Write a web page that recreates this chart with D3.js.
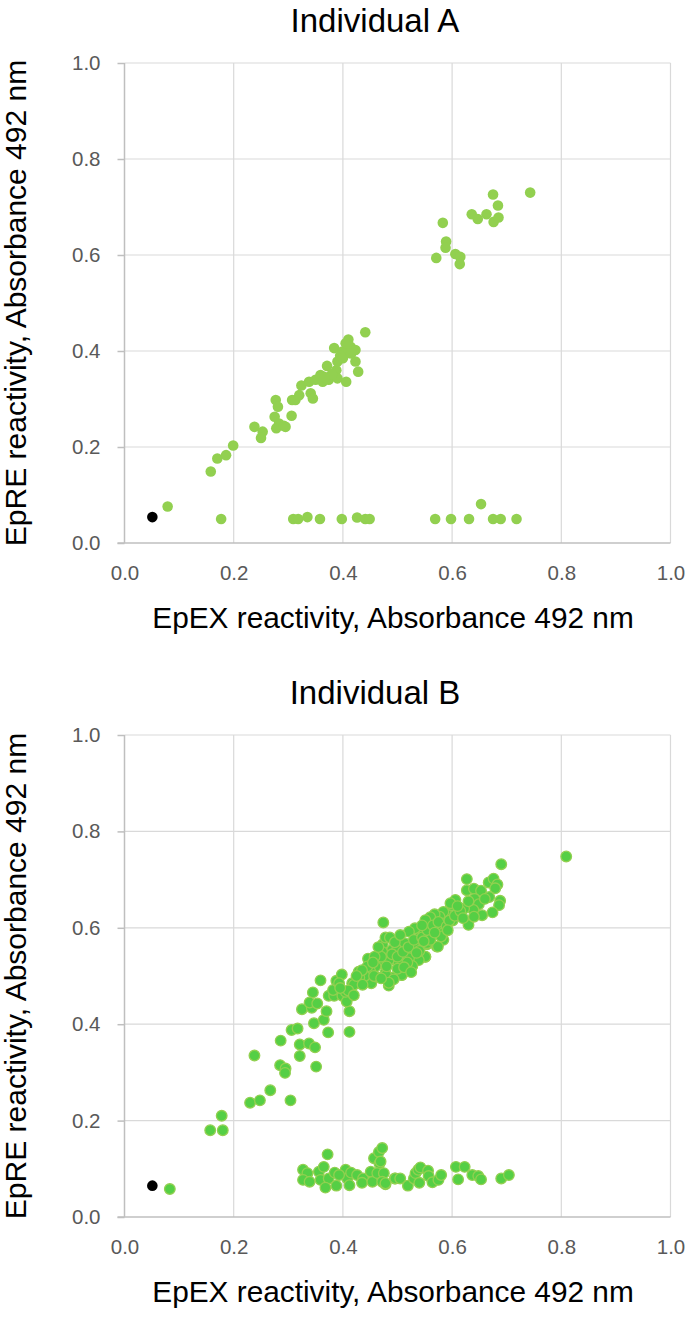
<!DOCTYPE html>
<html>
<head>
<meta charset="utf-8">
<script src="https://cdn.jsdelivr.net/npm/d3@7"></script>
<style>
  html, body { margin: 0; padding: 0; background: #ffffff; }
  svg { display: block; }
  text { font-family: "Liberation Sans", Arial, sans-serif; }
</style>
</head>
<body>
<svg id="chart" width="685" height="1319"></svg>
<script>
// ---------------- DATA ----------------
const panelTitles = ["Individual A", "Individual B"];
const xAxisTitle = "EpEX reactivity, Absorbance 492 nm";
const yAxisTitle = "EpRE reactivity, Absorbance 492 nm";
const tickValues = [0.0, 0.2, 0.4, 0.6, 0.8, 1.0];

// Individual A – samples [EpEX, EpRE]
const samplesA = [
  [0.079,0.076],[0.158,0.149],[0.170,0.176],[0.186,0.183],[0.199,0.203],
  [0.238,0.242],[0.253,0.232],[0.250,0.219],[0.277,0.298],[0.281,0.284],
  [0.275,0.263],[0.283,0.249],[0.278,0.239],[0.292,0.244],[0.295,0.242],
  [0.306,0.265],[0.307,0.298],[0.313,0.298],[0.320,0.308],[0.324,0.328],
  [0.338,0.336],[0.341,0.312],[0.345,0.301],[0.350,0.340],[0.359,0.350],
  [0.363,0.336],[0.371,0.369],[0.374,0.340],[0.384,0.406],[0.388,0.360],
  [0.390,0.378],[0.390,0.343],[0.399,0.399],[0.406,0.336],[0.410,0.424],
  [0.414,0.409],[0.423,0.402],[0.423,0.378],[0.428,0.357],[0.441,0.439],
  [0.405,0.416],[0.395,0.390],[0.400,0.385],[0.380,0.352],[0.366,0.346],
  [0.415,0.395],
  // upper cluster
  [0.743,0.730],[0.675,0.726],[0.684,0.703],[0.636,0.685],[0.647,0.675],
  [0.663,0.685],[0.676,0.669],[0.685,0.678],[0.583,0.667],[0.589,0.628],
  [0.588,0.615],[0.571,0.594],[0.606,0.602],[0.615,0.596],[0.614,0.581],
  // EpRE-negative row
  [0.177,0.050],[0.309,0.050],[0.318,0.050],[0.335,0.054],[0.358,0.050],
  [0.398,0.050],[0.426,0.053],[0.441,0.050],[0.449,0.050],[0.569,0.050],
  [0.598,0.050],[0.631,0.050],[0.653,0.081],[0.675,0.050],[0.689,0.050],
  [0.718,0.050]
];
const controlA = [[0.051,0.054]];

// Individual B – samples [EpEX, EpRE]
const samplesB = [
  [0.083,0.058],[0.157,0.180],[0.180,0.180],[0.178,0.210],[0.230,0.237],
  [0.248,0.242],[0.267,0.263],[0.304,0.242],[0.238,0.335],[0.285,0.315],
  [0.295,0.308],[0.294,0.299],[0.321,0.334],[0.321,0.358],[0.338,0.360],
  [0.349,0.352],[0.351,0.312],[0.286,0.366],[0.306,0.388],[0.317,0.391],
  [0.347,0.402],[0.365,0.409],[0.373,0.383],[0.412,0.384],[0.412,0.427],
  [0.370,0.427],[0.325,0.431],[0.343,0.434],[0.339,0.445],[0.353,0.443],
  [0.345,0.466],[0.359,0.491],[0.374,0.459],[0.384,0.459],[0.399,0.459],
  [0.382,0.471],[0.407,0.447],[0.405,0.467],[0.388,0.490],[0.398,0.503],
  [0.393,0.485],[0.417,0.485],[0.429,0.509],[0.432,0.493],[0.446,0.536],
  [0.441,0.493],[0.452,0.485],[0.460,0.499],[0.449,0.509],[0.463,0.530],
  [0.469,0.554],[0.478,0.507],[0.484,0.480],[0.483,0.533],[0.493,0.497],
  [0.499,0.530],[0.501,0.554],[0.508,0.502],[0.512,0.566],[0.521,0.540],
  [0.527,0.521],[0.533,0.533],[0.539,0.566],[0.551,0.540],[0.554,0.566],
  [0.572,0.561],[0.473,0.566],[0.490,0.554],
  [0.809,0.748],[0.690,0.732],[0.627,0.701],[0.667,0.694],[0.676,0.702],
  [0.683,0.690],[0.679,0.682],[0.627,0.678],[0.640,0.681],[0.653,0.677],
  [0.641,0.660],[0.668,0.664],[0.688,0.656],[0.686,0.647],[0.649,0.649],
  [0.639,0.637],[0.674,0.632],[0.655,0.626],[0.630,0.606],[0.640,0.623],
  [0.622,0.640],[0.606,0.658],[0.598,0.647],[0.612,0.628],[0.601,0.615],
  [0.591,0.627],[0.584,0.633],[0.577,0.623],[0.568,0.628],[0.560,0.622],
  [0.551,0.616],[0.584,0.609],[0.575,0.599],[0.584,0.575],[0.574,0.561],
  [0.584,0.589],[0.563,0.589],[0.554,0.589],[0.542,0.589],[0.532,0.599],
  [0.521,0.592],[0.474,0.611],[0.478,0.580],[0.486,0.580],[0.566,0.604],
  [0.539,0.568],[0.554,0.568],[0.530,0.564],[0.513,0.568],[0.499,0.554],
  [0.527,0.547],[0.551,0.540],[0.539,0.533],[0.521,0.537],[0.502,0.526],
  [0.484,0.533],[0.472,0.550],[0.466,0.526],[0.527,0.521],[0.508,0.502],
  [0.479,0.502],[0.493,0.493],[0.484,0.486],[0.597,0.651],
  [0.460,0.520],[0.470,0.540],[0.480,0.520],[0.490,0.545],[0.500,0.540],
  [0.510,0.550],[0.520,0.560],[0.530,0.575],[0.545,0.580],[0.555,0.595],
  [0.565,0.605],[0.575,0.612],[0.590,0.603],[0.595,0.615],[0.605,0.625],
  [0.615,0.635],[0.620,0.620],[0.450,0.510],[0.440,0.500],[0.430,0.497],
  [0.420,0.482],[0.457,0.500],[0.500,0.515],[0.518,0.528],[0.540,0.552],
  [0.560,0.575],[0.580,0.582],[0.535,0.548],[0.548,0.572],[0.568,0.590],
  [0.592,0.595],[0.470,0.495],[0.512,0.518],[0.525,0.508],[0.458,0.540],
  [0.445,0.520],[0.435,0.512],[0.425,0.500],[0.465,0.560],[0.495,0.570],
  [0.505,0.585],[0.545,0.605],[0.610,0.645],[0.630,0.655],[0.660,0.660],
  [0.410,0.470],[0.420,0.460],[0.395,0.475],[0.436,0.482],[0.455,0.528],
  // EpRE-negative group
  [0.327,0.098],[0.335,0.091],[0.327,0.077],[0.339,0.073],[0.356,0.094],
  [0.365,0.104],[0.372,0.130],[0.359,0.077],[0.374,0.080],[0.368,0.061],
  [0.385,0.092],[0.388,0.065],[0.405,0.098],[0.408,0.080],[0.412,0.066],
  [0.415,0.092],[0.426,0.087],[0.437,0.080],[0.435,0.071],[0.451,0.094],
  [0.454,0.073],[0.457,0.122],[0.466,0.135],[0.472,0.143],[0.467,0.111],
  [0.463,0.091],[0.475,0.091],[0.472,0.073],[0.478,0.068],[0.495,0.080],
  [0.393,0.087],[0.469,0.115],[0.478,0.070],[0.496,0.080],[0.505,0.080],
  [0.519,0.065],[0.530,0.080],[0.533,0.091],[0.538,0.098],[0.542,0.103],
  [0.540,0.071],[0.556,0.096],[0.557,0.085],[0.564,0.072],[0.575,0.077],
  [0.580,0.087],[0.607,0.104],[0.623,0.104],[0.611,0.078],[0.637,0.087],
  [0.648,0.085],[0.653,0.078],[0.690,0.080],[0.704,0.087]
];
const controlB = [[0.051,0.065]];

// ---------------- DRAW ----------------
const svg = d3.select("#chart");
const left = 124.5, right = 670.5;
const panels = [
  { title: panelTitles[0], top: 63, bottom: 543, samples: samplesA, control: controlA,
    fill: "#92d050", stroke: "none", r: 5.3 },
  { title: panelTitles[1], top: 735, bottom: 1217, samples: samplesB, control: controlB,
    fill: "#55cf45", stroke: "#92d050", r: 5.3 }
];
const fmt = d3.format(".1f");
const tickFont = "20.5px";

panels.forEach(p => {
  const x = d3.scaleLinear().domain([0, 1]).range([left, right]);
  const y = d3.scaleLinear().domain([0, 1]).range([p.bottom, p.top]);
  const g = svg.append("g");

  // gridlines
  g.append("g").selectAll("line").data(tickValues.filter(d => d > 0)).join("line")
    .attr("x1", d => x(d)).attr("x2", d => x(d))
    .attr("y1", y(1)).attr("y2", y(0))
    .attr("stroke", "#d9d9d9").attr("stroke-width", 1.2);
  g.append("g").selectAll("line").data(tickValues.filter(d => d > 0)).join("line")
    .attr("x1", x(0)).attr("x2", x(1))
    .attr("y1", d => y(d)).attr("y2", d => y(d))
    .attr("stroke", "#d9d9d9").attr("stroke-width", 1.2);

  // y axis
  const yAxis = d3.axisLeft(y).tickValues(tickValues).tickFormat(fmt)
    .tickSize(7).tickPadding(17);
  const ya = g.append("g").attr("transform", `translate(${x(0)},0)`).call(yAxis);
  ya.select(".domain").attr("stroke", "#bfbfbf").attr("stroke-width", 1.5)
    .attr("d", `M0,${y(1)}V${y(0)}`);
  ya.selectAll(".tick line").attr("stroke", "#bfbfbf").attr("stroke-width", 1.5);
  ya.selectAll(".tick text").attr("fill", "#595959").style("font-size", tickFont)
    .style("font-family", '"Liberation Sans", Arial, sans-serif');

  // x axis
  const xAxis = d3.axisBottom(x).tickValues(tickValues).tickFormat(fmt)
    .tickSize(0).tickPadding(22);
  const xa = g.append("g").attr("transform", `translate(0,${y(0)})`).call(xAxis);
  xa.select(".domain").attr("stroke", "#bfbfbf").attr("stroke-width", 1.5)
    .attr("d", `M${x(0) - 7},0H${x(1)}`);
  xa.selectAll(".tick text").attr("fill", "#595959").style("font-size", tickFont)
    .style("font-family", '"Liberation Sans", Arial, sans-serif');

  // points
  g.append("g").selectAll("circle").data(p.samples).join("circle")
    .attr("cx", d => x(d[0])).attr("cy", d => y(d[1])).attr("r", p.r)
    .attr("fill", p.fill).attr("stroke", p.stroke).attr("stroke-width", 1.3);
  g.append("g").selectAll("circle").data(p.control).join("circle")
    .attr("cx", d => x(d[0])).attr("cy", d => y(d[1])).attr("r", 5.3)
    .attr("fill", "#000000");

  // titles
  g.append("text").attr("x", 375).attr("y", p.top - 31)
    .attr("text-anchor", "middle").style("font-size", "33px").attr("fill", "#000")
    .text(p.title);
  g.append("text").attr("x", 393).attr("y", y(0) + 85)
    .attr("text-anchor", "middle").style("font-size", "29.8px").attr("fill", "#000")
    .text(xAxisTitle);
  g.append("text")
    .attr("transform", `translate(26,${(y(0) + y(1)) / 2}) rotate(-90)`)
    .attr("text-anchor", "middle").style("font-size", "30px").attr("fill", "#000")
    .text(yAxisTitle);
});
</script>
</body>
</html>
